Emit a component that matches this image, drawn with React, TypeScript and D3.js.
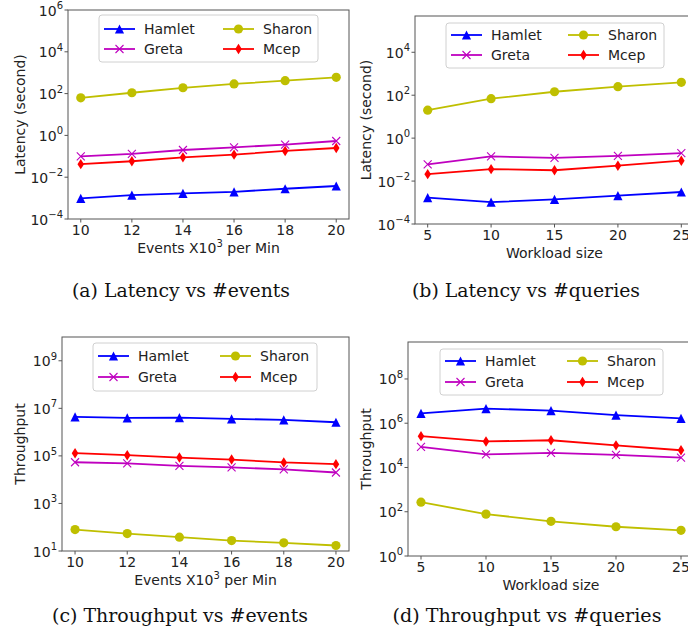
import React from "react";
import * as d3 from "d3";

// ---------- DATA ----------
const X_EVENTS = [10, 12, 14, 16, 18, 20];
const X_QUERIES = [5, 10, 15, 20, 25];
const X_EVENTS_TICKS = [10, 12, 14, 16, 18, 20];
const X_QUERIES_TICKS = [5, 10, 15, 20, 25];

const SERIES_NAMES = ["Hamlet", "Greta", "Sharon", "Mcep"];

// (a) Latency vs #events
const LAT_EV_HAMLET = [0.00098, 0.0014, 0.0017, 0.002, 0.0028, 0.0038];
const LAT_EV_GRETA = [0.1, 0.13, 0.2, 0.27, 0.36, 0.54];
const LAT_EV_SHARON = [63, 110, 190, 290, 415, 600];
const LAT_EV_MCEP = [0.042, 0.058, 0.089, 0.12, 0.18, 0.25];

// (b) Latency vs #queries
const LAT_Q_HAMLET = [0.0017, 0.00105, 0.0014, 0.0021, 0.0031];
const LAT_Q_GRETA = [0.06, 0.14, 0.12, 0.15, 0.2];
const LAT_Q_SHARON = [20, 69, 145, 250, 400];
const LAT_Q_MCEP = [0.021, 0.036, 0.032, 0.052, 0.089];

// (c) Throughput vs #events
const THR_EV_HAMLET = [4.4e6, 4.0e6, 4.1e6, 3.6e6, 3.3e6, 2.6e6];
const THR_EV_GRETA = [5.4e4, 4.8e4, 3.8e4, 3.3e4, 2.7e4, 2.0e4];
const THR_EV_SHARON = [80, 54, 38, 27.5, 22, 17];
const THR_EV_MCEP = [1.3e5, 1.07e5, 8.5e4, 7.0e4, 5.3e4, 4.5e4];

// (d) Throughput vs #queries
const THR_Q_HAMLET = [2.8e6, 4.6e6, 3.7e6, 2.3e6, 1.66e6];
const THR_Q_GRETA = [8.5e4, 3.9e4, 4.6e4, 3.7e4, 2.8e4];
const THR_Q_SHARON = [270, 78, 37, 21, 14.5];
const THR_Q_MCEP = [2.6e5, 1.5e5, 1.7e5, 1.0e5, 6.0e4];

const LAT_EV_TICKS = [-4, -2, 0, 2, 4, 6];
const LAT_Q_TICKS = [-4, -2, 0, 2, 4];
const THR_EV_TICKS = [1, 3, 5, 7, 9];
const THR_Q_TICKS = [0, 2, 4, 6, 8];

// ---------- STYLES ----------
const COLORS: Record<string, string> = {
  Hamlet: "#0000ff",
  Greta: "#bf00bf",
  Sharon: "#bfbf00",
  Mcep: "#ff0000",
};
const MARKERS: Record<string, string> = {
  Hamlet: "tri",
  Greta: "x",
  Sharon: "circle",
  Mcep: "thin",
};

const SANS = "DejaVu Sans, sans-serif";
const SERIF = "DejaVu Serif, Liberation Serif, serif";

function Marker({ kind, x, y, color }: { kind: string; x: number; y: number; color: string }) {
  if (kind === "circle") return <circle cx={x} cy={y} r={4.6} fill={color} />;
  if (kind === "tri") {
    const r = 4.6;
    return <path d={`M${x},${y - r}L${x + r},${y + r}L${x - r},${y + r}Z`} fill={color} />;
  }
  if (kind === "thin") {
    const h = 5.2, w = 3.3;
    return <path d={`M${x},${y - h}L${x + w},${y}L${x},${y + h}L${x - w},${y}Z`} fill={color} />;
  }
  const r = 4;
  return (
    <path
      d={`M${x - r},${y - r}L${x + r},${y + r}M${x - r},${y + r}L${x + r},${y - r}`}
      stroke={color}
      strokeWidth={1.1}
      fill="none"
    />
  );
}

function Pow({ exp }: { exp: number }) {
  const s = exp < 0 ? "\u2212" + Math.abs(exp) : String(exp);
  return (
    <>
      <tspan>10</tspan>
      <tspan dy={-6.5} fontSize={10}>{s}</tspan>
    </>
  );
}

type PanelProps = {
  box: { l: number; t: number; r: number; b: number };
  xDomain: [number, number];
  yDomain: [number, number];
  xs: number[];
  xTicks: number[];
  yTicks: number[];
  series: number[][];
  ylabel: string;
  xlabel: React.ReactNode;
  caption: string;
  captionX: number;
  captionY: number;
  captionW: number;
  yLabelX: number;
  legend: { x: number; y: number; w: number; h: number; col2: number; r1: number; r2: number };
};

function Panel(p: PanelProps) {
  const { box } = p;
  const x = d3.scaleLinear().domain(p.xDomain).range([box.l, box.r]);
  const y = d3.scaleLog().domain(p.yDomain).range([box.b, box.t]);
  const line = d3
    .line<[number, number]>()
    .x((d) => x(d[0]))
    .y((d) => y(d[1]));
  const cx = (box.l + box.r) / 2;
  const cy = (box.t + box.b) / 2;
  const lg = p.legend;
  const legendItems = SERIES_NAMES.map((name, i) => ({
    name,
    hx: lg.x + (i < 2 ? 5 : lg.col2),
    ry: lg.y + (i % 2 === 0 ? lg.r1 : lg.r2),
  }));
  const clipId = `clip-${box.l}-${box.t}`;
  return (
    <g>
      <defs>
        <clipPath id={clipId}>
          <rect x={box.l} y={box.t} width={box.r - box.l} height={box.b - box.t} />
        </clipPath>
      </defs>
      {/* series */}
      <g clipPath={`url(#${clipId})`}>
        {p.series.map((vals, si) => {
          const name = SERIES_NAMES[si];
          const pts = p.xs.map((xv, i) => [xv, vals[i]] as [number, number]);
          return <path key={name} d={line(pts) || ""} stroke={COLORS[name]} strokeWidth={1.8} fill="none" />;
        })}
        {p.series.map((vals, si) => {
          const name = SERIES_NAMES[si];
          return (
            <g key={name + "m"}>
              {p.xs.map((xv, i) => (
                <Marker key={i} kind={MARKERS[name]} x={x(xv)} y={y(vals[i])} color={COLORS[name]} />
              ))}
            </g>
          );
        })}
      </g>
      {/* spines */}
      <rect
        x={box.l}
        y={box.t}
        width={box.r - box.l}
        height={box.b - box.t}
        fill="none"
        stroke="#555"
        strokeWidth={1}
      />
      {/* x ticks */}
      {p.xTicks.map((t) => (
        <g key={"x" + t}>
          <line x1={x(t)} x2={x(t)} y1={box.b} y2={box.b + 3.5} stroke="#555" />
          <text x={x(t)} y={box.b + 16} textAnchor="middle" fontFamily={SANS} fontSize={14} fill="#222">
            {t}
          </text>
        </g>
      ))}
      {/* y ticks */}
      {p.yTicks.map((e) => (
        <g key={"y" + e}>
          <line x1={box.l - 3.5} x2={box.l} y1={y(Math.pow(10, e))} y2={y(Math.pow(10, e))} stroke="#555" />
          <text
            x={box.l - 5}
            y={y(Math.pow(10, e)) + 5.5}
            textAnchor="end"
            fontFamily={SANS}
            fontSize={14}
            fill="#222"
          >
            <Pow exp={e} />
          </text>
        </g>
      ))}
      {/* axis labels */}
      <text x={cx} y={box.b + 34} textAnchor="middle" fontFamily={SANS} fontSize={14} fill="#222">
        {p.xlabel}
      </text>
      <text
        transform={`translate(${p.yLabelX + 5},${cy}) rotate(-90)`}
        textAnchor="middle"
        fontFamily={SANS}
        fontSize={14}
        fill="#222"
      >
        {p.ylabel}
      </text>
      {/* legend */}
      <rect
        x={lg.x}
        y={lg.y}
        width={lg.w}
        height={lg.h}
        rx={3}
        fill="#fff"
        fillOpacity={0.8}
        stroke="#d0d0d0"
        strokeWidth={1}
      />
      {legendItems.map((it) => (
        <g key={"lg" + it.name}>
          <line x1={it.hx} x2={it.hx + 31} y1={it.ry} y2={it.ry} stroke={COLORS[it.name]} strokeWidth={1.8} />
          <Marker kind={MARKERS[it.name]} x={it.hx + 15.5} y={it.ry} color={COLORS[it.name]} />
          <text x={it.hx + 40} y={it.ry + 5} fontFamily={SANS} fontSize={14} fill="#222">
            {it.name}
          </text>
        </g>
      ))}
      {/* caption */}
      <text
        x={p.captionX - p.captionW / 2}
        y={p.captionY}
        fontFamily={SERIF}
        fontSize={18}
        fill="#111"
        textLength={p.captionW}
        lengthAdjust="spacingAndGlyphs"
      >
        {p.caption}
      </text>
    </g>
  );
}

const eventsLabel = (
  <>
    <tspan>Events X10</tspan>
    <tspan dy={-6} fontSize={10}>3</tspan>
    <tspan dy={6}> per Min</tspan>
  </>
);

export default function App() {
  return (
    <svg
      width={688}
      height={641}
      style={{ position: "absolute", left: 0, top: 0, background: "#fff" }}
    >
      <rect width={688} height={641} fill="#fff" />
      <Panel
        box={{ l: 68, t: 10, r: 349, b: 219 }}
        xDomain={[9.5, 20.5]}
        yDomain={[1e-4, 1e6]}
        xs={X_EVENTS}
        xTicks={X_EVENTS_TICKS}
        yTicks={LAT_EV_TICKS}
        series={[LAT_EV_HAMLET, LAT_EV_GRETA, LAT_EV_SHARON, LAT_EV_MCEP]}
        ylabel="Latency (second)"
        xlabel={eventsLabel}
        caption="(a)  Latency vs #events"
        captionX={181}
        captionY={297}
        captionW={218}
        yLabelX={20}
        legend={{ x: 99, y: 15, w: 219, h: 47, col2: 124, r1: 14, r2: 34 }}
      />
      <Panel
        box={{ l: 415, t: 16, r: 694, b: 224 }}
        xDomain={[4, 26]}
        yDomain={[1e-4, Math.pow(10, 5.69)]}
        xs={X_QUERIES}
        xTicks={X_QUERIES_TICKS}
        yTicks={LAT_Q_TICKS}
        series={[LAT_Q_HAMLET, LAT_Q_GRETA, LAT_Q_SHARON, LAT_Q_MCEP]}
        ylabel="Latency (second)"
        xlabel="Workload size"
        caption="(b)  Latency vs #queries"
        captionX={526}
        captionY={297}
        captionW={228}
        yLabelX={366}
        legend={{ x: 446, y: 23, w: 218, h: 45, col2: 122, r1: 12, r2: 32 }}
      />
      <Panel
        box={{ l: 62, t: 337, r: 349, b: 551 }}
        xDomain={[9.5, 20.5]}
        yDomain={[10, 1e10]}
        xs={X_EVENTS}
        xTicks={X_EVENTS_TICKS}
        yTicks={THR_EV_TICKS}
        series={[THR_EV_HAMLET, THR_EV_GRETA, THR_EV_SHARON, THR_EV_MCEP]}
        ylabel="Throughput"
        xlabel={eventsLabel}
        caption="(c)  Throughput vs #events"
        captionX={180}
        captionY={622}
        captionW={256}
        yLabelX={20}
        legend={{ x: 93, y: 343, w: 224, h: 48, col2: 127, r1: 13, r2: 34 }}
      />
      <Panel
        box={{ l: 408, t: 342, r: 694, b: 556 }}
        xDomain={[4, 26]}
        yDomain={[1, Math.pow(10, 9.67)]}
        xs={X_QUERIES}
        xTicks={X_QUERIES_TICKS}
        yTicks={THR_Q_TICKS}
        series={[THR_Q_HAMLET, THR_Q_GRETA, THR_Q_SHARON, THR_Q_MCEP]}
        ylabel="Throughput"
        xlabel="Workload size"
        caption="(d)  Throughput vs #queries"
        captionX={527}
        captionY={622}
        captionW={269}
        yLabelX={366}
        legend={{ x: 440, y: 349, w: 223, h: 46, col2: 127, r1: 12, r2: 33 }}
      />
    </svg>
  );
}
